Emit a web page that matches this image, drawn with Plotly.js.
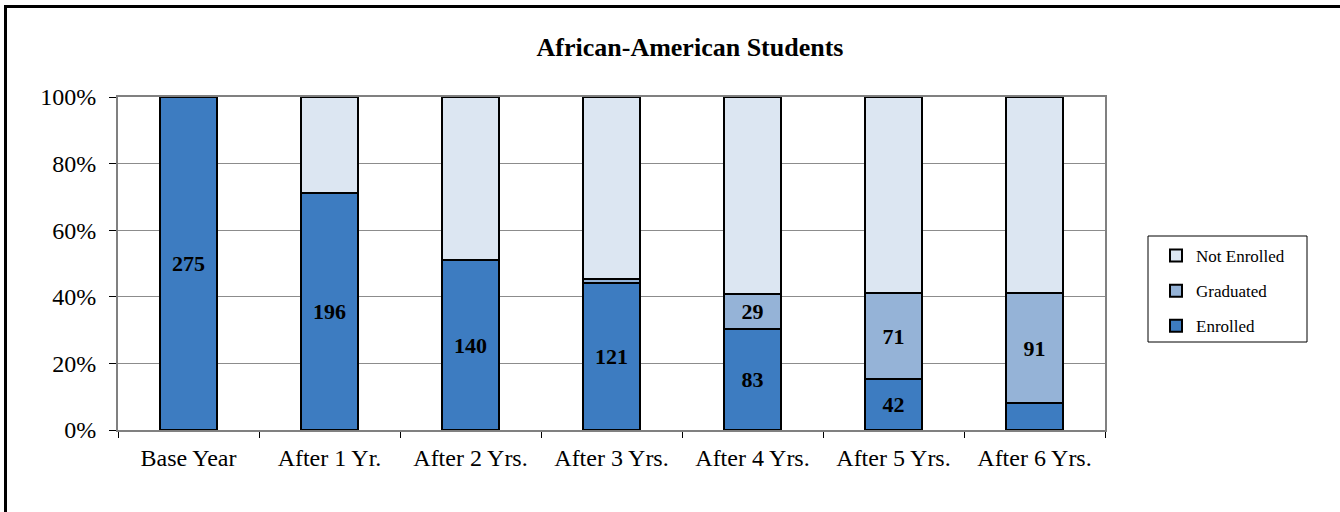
<!DOCTYPE html>
<html>
<head>
<meta charset="utf-8">
<script src="https://cdn.plot.ly/plotly-3.0.1.min.js"></script>
<style>
  html, body { margin: 0; padding: 0; background: #fff; }
  #wrap { position: relative; width: 1340px; height: 512px; overflow: hidden; }
  #chart { position: absolute; left: 0; top: 0; width: 1340px; height: 512px; }
  #frame { position: absolute; left: 4px; top: 5px; width: 1340px; height: 520px;
           border-top: 3px solid #000; border-left: 3px solid #000; pointer-events: none; }
</style>
</head>
<body>
<div id="wrap">
  <div id="chart"></div>
  <div id="frame"></div>
</div>
<script>
const categories = ["Base Year", "After 1 Yr.", "After 2 Yrs.", "After 3 Yrs.", "After 4 Yrs.", "After 5 Yrs.", "After 6 Yrs."];
const enrolled    = [275, 196, 140, 121, 83, 42, 22];
const graduated   = [0, 0, 0, 4, 29, 71, 91];
const notEnrolled = [0, 79, 135, 150, 163, 162, 162];
const enrolledLabels  = ["275", "196", "140", "121", "83", "42", ""];
const graduatedLabels = ["", "", "", "", "29", "71", "91"];
const notEnrolledLabels = ["", "", "", "", "", "", ""];

const serif = "Liberation Serif";
const labelFont = {family: serif, size: 22, color: "#000", weight: "bold"};

function barTrace(name, values, labels, color, rank) {
  return {
    type: "bar",
    name: name,
    x: categories,
    y: values,
    text: labels,
    texttemplate: "<b>%{text}</b>",
    textposition: "inside",
    insidetextanchor: "middle",
    constraintext: "none",
    textfont: labelFont,
    legendgroup: name,
    legendrank: rank,
    marker: {color: color, line: {color: "#000", width: 2}},
    hoverinfo: "skip"
  };
}

const data = [
  barTrace("Enrolled", enrolled, enrolledLabels, "#3d7cc1", 3),
  barTrace("Graduated", graduated, graduatedLabels, "#95b3d7", 2),
  barTrace("Not Enrolled", notEnrolled, notEnrolledLabels, "#dce6f2", 1)
];

const plotL = 118, plotR = 1105, plotT = 97, plotB = 430;
const pw = plotR - plotL, ph = plotB - plotT;

const layout = {
  width: 1340,
  height: 512,
  margin: {l: plotL, r: 1340 - plotR, t: plotT, b: 512 - plotB, pad: 0},
  paper_bgcolor: "#fff",
  plot_bgcolor: "#fff",
  barmode: "stack",
  barnorm: "percent",
  bargap: 0.6,
  showlegend: true,
  font: {family: serif, color: "#000"},
  title: {
    text: "<b>African-American Students</b>",
    font: {family: serif, size: 26, color: "#000"},
    x: 690 / 1340, xanchor: "center", xref: "container",
    y: 1 - 47 / 512, yanchor: "middle", yref: "container"
  },
  xaxis: {
    type: "category",
    tickson: "boundaries",
    ticks: "outside",
    ticklen: 6,
    tickcolor: "#000",
    tickwidth: 1,
    showline: true,
    linecolor: "#808080",
    linewidth: 2,
    mirror: true,
    showgrid: false,
    tickfont: {family: serif, size: 24, color: "#000"},
    ticklabelstandoff: 5
  },
  yaxis: {
    range: [0, 100],
    tickvals: [0, 20, 40, 60, 80, 100],
    ticktext: ["0%", "20%", "40%", "60%", "80%", "100%"],
    ticks: "outside",
    ticklen: 7,
    tickcolor: "#000",
    showline: true,
    linecolor: "#808080",
    linewidth: 2,
    mirror: true,
    showgrid: true,
    gridcolor: "#8c8c8c",
    gridwidth: 1,
    zeroline: false,
    tickfont: {family: serif, size: 24, color: "#000"},
    ticklabelstandoff: 8
  },
  shapes: [{
    type: "rect", xref: "paper", yref: "paper",
    x0: (1148 - plotL) / pw, x1: (1307 - plotL) / pw,
    y0: (plotB - 342) / ph, y1: (plotB - 236) / ph,
    line: {color: "#000", width: 1}, fillcolor: "rgba(0,0,0,0)"
  }],
  legend: {
    x: (1156 - plotL) / pw,
    xanchor: "left",
    y: (plotB - 238) / ph,
    yanchor: "top",
    traceorder: "grouped",
    tracegroupgap: 10,
    borderwidth: 0,
    bgcolor: "rgba(0,0,0,0)",
    font: {family: serif, size: 17, color: "#000"}
  }
};

Plotly.newPlot("chart", data, layout, {displayModeBar: false, staticPlot: true});
</script>
</body>
</html>
